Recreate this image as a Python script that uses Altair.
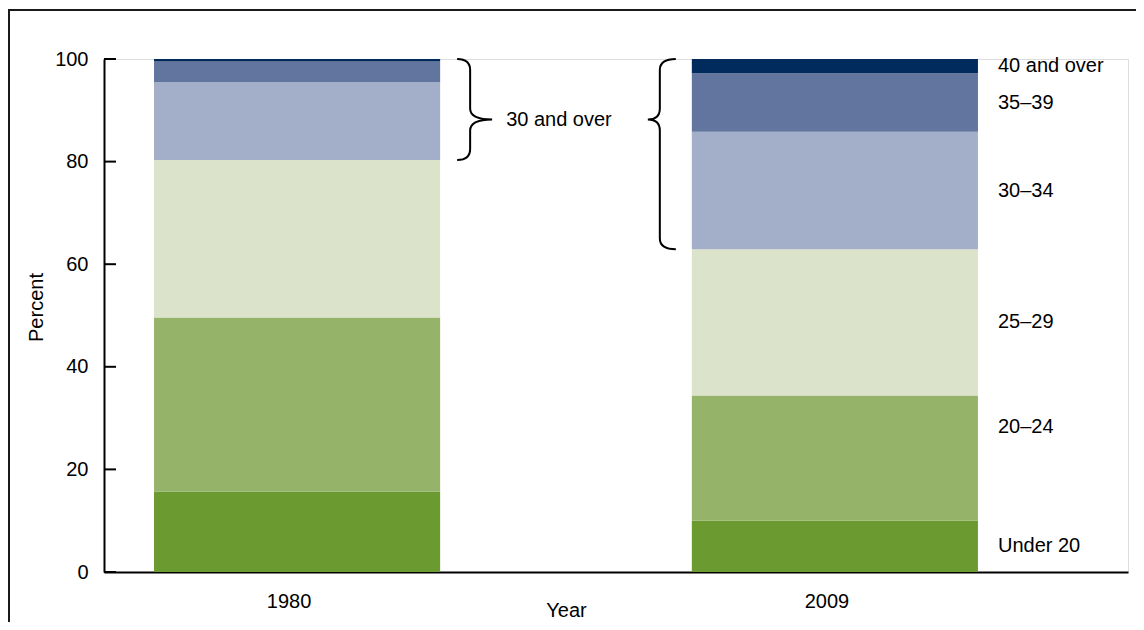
import altair as alt
import pandas as pd

# ---------------- data ----------------
years = ["1980", "2009"]
age_groups = ["Under 20", "20–24", "25–29", "30–34", "35–39", "40 and over"]
share_1980 = [15.7, 33.9, 30.7, 15.2, 4.0, 0.5]
share_2009 = [10.0, 24.4, 28.5, 22.9, 11.4, 2.8]
colors = ["#6b9b30", "#96b469", "#dbe3cb", "#a3aec9", "#62759e", "#002b5c"]
y_ticks = [0, 20, 40, 60, 80, 100]
group_label = "30 and over"
group_members = ["30–34", "35–39", "40 and over"]
group_label_value = 88.2

# ---------------- layout ----------------
W, H = 1024, 513
PX = H / 100.0
FONT = "Liberation Sans"
FS = 20

rows = []
for year, shares in zip(years, [share_1980, share_2009]):
    cum = 0.0
    for i, (g, s) in enumerate(zip(age_groups, shares)):
        rows.append(dict(year=year, group=g, idx=i, lo=cum, hi=cum + s, mid=cum + s / 2))
        cum += s
df = pd.DataFrame(rows)

x_scale = alt.Scale(domain=years, paddingInner=0.468, paddingOuter=0.186, align=0.25)
x_axis = alt.Axis(ticks=False, domainColor="black", domainWidth=2, labelAngle=0,
                  labelFont=FONT, labelFontSize=FS, labelColor="black", labelPadding=19,
                  labelOffset=-8, title="Year", titleFont=FONT, titleFontSize=FS,
                  titleFontWeight="normal", titleColor="black", titleX=462, titleY=44,
                  titleBaseline="alphabetic", titleAlign="center")
y_scale = alt.Scale(domain=[0, 100], nice=False, zero=True)
y_axis = alt.Axis(values=y_ticks, ticks=False, grid=False, domainColor="black", domainWidth=2,
                  labelFont=FONT, labelFontSize=FS, labelColor="black", labelPadding=16,
                  title="Percent", titleFont=FONT, titleFontSize=FS, titleFontWeight="normal",
                  titleColor="black", titleAngle=270, titleX=-62, titleY=248,
                  titleBaseline="alphabetic", titleAlign="center")


def xenc(band_pos=None):
    kw = dict(scale=x_scale, axis=x_axis, title="Year")
    if band_pos is not None:
        kw["bandPosition"] = band_pos
    return alt.X("year:N", **kw)


def yenc(field):
    return alt.Y(f"{field}:Q", scale=y_scale, axis=y_axis, title="Percent")


bars = alt.Chart(df).mark_bar().encode(
    x=xenc(),
    y=yenc("lo"),
    y2="hi:Q",
    color=alt.Color("group:N", scale=alt.Scale(domain=age_groups, range=colors), legend=None),
)

tick_marks = alt.Chart(pd.DataFrame({"tick": y_ticks})).mark_rule(
    color="black", strokeWidth=2
).encode(y=yenc("tick"), x=alt.value(0), x2=alt.value(12))

lab = df[df["year"] == years[-1]]
labels_main = alt.Chart(lab[lab["group"] != "20–24"]).mark_text(
    align="left", baseline="middle", dx=20, font=FONT, fontSize=FS, color="black"
).encode(x=xenc(1), y=yenc("mid"), text="group:N")
labels_shift = alt.Chart(lab[lab["group"] == "20–24"]).mark_text(
    align="left", baseline="middle", dx=20, dy=-31, font=FONT, fontSize=FS, color="black"
).encode(x=xenc(1), y=yenc("mid"), text="group:N")


def brace_path(h, t, x_end, x_vert, x_tip, r=11.0):
    s = 2.0 / h

    def P(x, y):
        return f"{x * s:.4f},{(y - h / 2) * s:.4f}"

    return (f"M{P(x_end, 0)} Q{P(x_vert, 0)} {P(x_vert, r)} L{P(x_vert, t - r)} "
            f"Q{P(x_vert, t)} {P(x_tip, t)} Q{P(x_vert, t)} {P(x_vert, t + r)} "
            f"L{P(x_vert, h - r)} Q{P(x_vert, h)} {P(x_end, h)}")


brace_layers = []
for year, band_pos, geom in [("1980", 1, (17, 30, 52)), ("2009", 0, (-16, -32, -44))]:
    sub = df[(df["year"] == year) & (df["group"].isin(group_members))]
    lo, hi = sub["lo"].min(), sub["hi"].max()
    hpx = (hi - lo) * PX
    tpx = (hi - group_label_value) * PX
    path = brace_path(hpx, tpx, *geom)
    bdf = pd.DataFrame([{"year": year, "mid": (lo + hi) / 2, "size": hpx ** 2}])
    brace_layers.append(
        alt.Chart(bdf).mark_point(shape=path, filled=False, color="black", strokeWidth=2,
                                  opacity=1).encode(
            x=xenc(band_pos), y=yenc("mid"), size=alt.Size("size:Q", scale=None, legend=None)
        )
    )

group_text = alt.Chart(pd.DataFrame([{"year": years[0], "v": group_label_value, "t": group_label}])).mark_text(
    align="left", baseline="middle", dx=66, font=FONT, fontSize=FS, color="black"
).encode(x=xenc(1), y=yenc("v"), text="t:N")

one = pd.DataFrame({"k": [0]})
frame_top = alt.Chart(one).mark_rule(color="#1a1a1a", strokeWidth=2).encode(
    x=alt.value(-96), x2=alt.value(1032), y=alt.value(-49))
frame_left = alt.Chart(one).mark_rule(color="#1a1a1a", strokeWidth=2).encode(
    x=alt.value(-95), y=alt.value(-49), y2=alt.value(563))

chart = alt.layer(
    bars, tick_marks, labels_main, labels_shift, *brace_layers, group_text, frame_top, frame_left
).properties(
    width=W, height=H,
    padding={"left": 96, "top": 51, "right": 8, "bottom": 50},
    autosize=alt.AutoSizeParams(type="none"),
).configure_view(stroke=None).configure(background="white")

chart.save("out.html", embed_options={"renderer": "svg", "actions": False})
